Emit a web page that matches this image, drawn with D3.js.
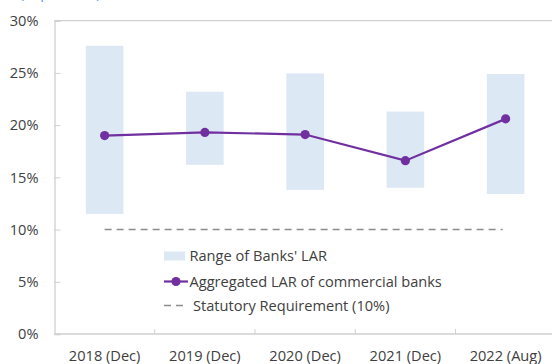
<!DOCTYPE html>
<html>
<head>
<meta charset="utf-8">
<script src="https://cdn.jsdelivr.net/npm/d3@7"></script>
<style>
  html, body { margin: 0; padding: 0; background: #fff; }
  svg { display: block; font-family: "Open Sans", "Noto Sans", sans-serif; }
</style>
</head>
<body>
<svg id="chart" width="552" height="364"></svg>
<script>
// Liquidity adequacy ratio (LAR) of commercial banks, in per cent
const categories = ["2018 (Dec)", "2019 (Dec)", "2020 (Dec)", "2021 (Dec)", "2022 (Aug)"];
const rangeLow   = [11.5, 16.2, 13.8, 14.0, 13.4];
const rangeHigh  = [27.6, 23.2, 24.95, 21.3, 24.9];
const aggregated = [19.0, 19.3, 19.1, 16.6, 20.6];
const statutory  = 10;
const yTicks     = [0, 5, 10, 15, 20, 25, 30];
const legendLabels = ["Range of Banks' LAR", "Aggregated LAR of commercial banks", "Statutory Requirement (10%)"];

const svg = d3.select("#chart");
const plotLeft = 54.5, plotRight = 555.75, plotTop = 20.7, plotBottom = 334;
const fontSize = 14.6;

const x = d3.scaleBand().domain(categories).range([plotLeft, plotRight]).padding(0);
const y = d3.scaleLinear().domain([0, 30]).range([plotBottom, plotTop]);
const cx = d => x(d) + x.bandwidth() / 2;

const axisColor = "#d0d0d0";
const textColor = "#404040";

// unit note above the plot (mostly clipped by the top edge)
svg.append("text")
  .attr("x", 20).attr("y", -2)
  .attr("fill", "#5b9bd5")
  .attr("font-size", fontSize)
  .text("(% per cent)");

// top border of the plot area
svg.append("line")
  .attr("x1", plotLeft).attr("x2", 552)
  .attr("y1", y(30)).attr("y2", y(30))
  .attr("stroke", axisColor).attr("stroke-width", 1.3);

// y axis: line, inward ticks, labels
const yAxis = d3.axisLeft(y).tickValues(yTicks).tickSize(-6).tickPadding(16)
  .tickFormat(d => d + "%");
const gy = svg.append("g").attr("transform", `translate(${plotLeft},0)`).call(yAxis);
gy.select(".domain").attr("stroke", axisColor).attr("stroke-width", 1.3);
gy.selectAll(".tick line").attr("stroke", axisColor);
gy.selectAll(".tick text").attr("fill", textColor).attr("font-size", fontSize)
  .attr("font-family", "'Open Sans', sans-serif");

// x axis line and ticks at category boundaries
svg.append("line")
  .attr("x1", plotLeft).attr("x2", 552)
  .attr("y1", plotBottom).attr("y2", plotBottom)
  .attr("stroke", axisColor).attr("stroke-width", 1.3);
svg.selectAll(".xtick").data(categories.slice(1)).enter().append("line")
  .attr("x1", d => x(d)).attr("x2", d => x(d))
  .attr("y1", plotBottom).attr("y2", plotBottom - 5)
  .attr("stroke", axisColor);
svg.selectAll(".xlabel").data(categories).enter().append("text")
  .attr("x", d => cx(d)).attr("y", 361)
  .attr("text-anchor", "middle")
  .attr("fill", textColor).attr("font-size", fontSize)
  .text(d => d);

// range bars
const barW = x.bandwidth() * 0.375;
svg.selectAll(".range").data(categories).enter().append("rect")
  .attr("x", d => cx(d) - barW / 2)
  .attr("width", barW)
  .attr("y", (d, i) => y(rangeHigh[i]))
  .attr("height", (d, i) => y(rangeLow[i]) - y(rangeHigh[i]))
  .attr("fill", "#dde8f5");

// statutory requirement
svg.append("line")
  .attr("x1", cx(categories[0])).attr("x2", cx(categories[categories.length - 1]) - 3)
  .attr("y1", y(statutory)).attr("y2", y(statutory))
  .attr("stroke", "#8c8c8c").attr("stroke-width", 1.5)
  .attr("stroke-dasharray", "7,5");

// aggregated LAR line and markers
const purple = "#7030a0";
const line = d3.line().x((d, i) => cx(categories[i])).y(d => y(d));
svg.append("path").datum(aggregated)
  .attr("d", line).attr("fill", "none")
  .attr("stroke", purple).attr("stroke-width", 2.2);
svg.selectAll(".dot").data(aggregated).enter().append("circle")
  .attr("cx", (d, i) => cx(categories[i])).attr("cy", d => y(d))
  .attr("r", 4.6).attr("fill", purple);

// legend
const lg = svg.append("g");
const lx = 164, rows = [256, 281.5, 305.5];
lg.append("rect").attr("x", lx).attr("y", rows[0] - 4.5).attr("width", 21).attr("height", 9)
  .attr("fill", "#dde8f5");
lg.append("line").attr("x1", lx).attr("x2", lx + 24).attr("y1", rows[1]).attr("y2", rows[1])
  .attr("stroke", purple).attr("stroke-width", 2.2);
lg.append("circle").attr("cx", lx + 12).attr("cy", rows[1]).attr("r", 4.6).attr("fill", purple);
lg.append("line").attr("x1", lx).attr("x2", lx + 24).attr("y1", rows[2]).attr("y2", rows[2])
  .attr("stroke", "#8c8c8c").attr("stroke-width", 1.5).attr("stroke-dasharray", "7,5");
const textX = [189.5, 189.5, 193];
lg.selectAll(".ltext").data(legendLabels).enter().append("text")
  .attr("x", (d, i) => textX[i]).attr("y", (d, i) => rows[i])
  .attr("dy", "0.35em")
  .attr("fill", textColor).attr("font-size", fontSize)
  .text(d => d);
</script>
</body>
</html>
